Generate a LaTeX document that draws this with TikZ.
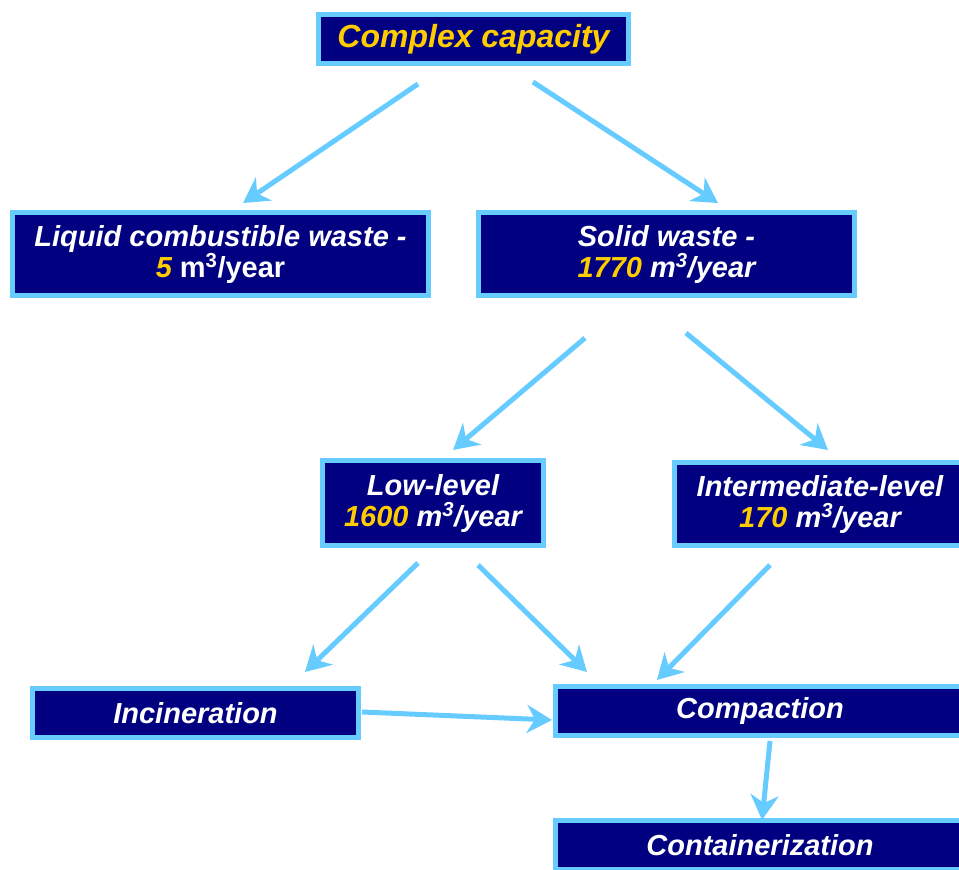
\documentclass[tikz,border=0pt]{standalone}
\usepackage{fontspec}
\setmainfont{Liberation Sans}
\usetikzlibrary{arrows.meta}

\definecolor{boxblue}{HTML}{000080}
\definecolor{lineblue}{HTML}{66CCFF}
\definecolor{numgold}{HTML}{FFCC00}

\newcommand{\num}[1]{\textcolor{numgold}{#1}}

\begin{document}
\begin{tikzpicture}[x=1pt,y=-1pt]
      \tikzset{
        every node/.style={draw=lineblue,line width=5pt,fill=boxblue,text=white,
          inner sep=0pt,align=center,font=\fontsize{29}{31}\selectfont\bfseries\itshape},
        arr/.style={lineblue,line width=5pt,-{Stealth[length=25pt,width=28pt,inset=8pt]}}
      }
      \useasboundingbox (0,0) rectangle (959,870);

      \node[minimum width=310pt,minimum height=49pt,text=numgold,
        font=\fontsize{32}{34}\selectfont\bfseries\itshape] (cap) at (473.5,39) {Complex capacity};
      \node[minimum width=416pt,minimum height=83pt] (liq) at (220.5,254)
        {Liquid combustible waste -\\\num{5} {\upshape m\textsuperscript{3}/year}};
      \node[minimum width=376pt,minimum height=83pt] (sol) at (666.5,254)
        {Solid waste -\\\num{1770} m\textsuperscript{3}/year};
      \node[minimum width=221pt,minimum height=85pt] (low) at (433,503)
        {Low-level\\\num{1600} m\textsuperscript{3}/year};
      \node[minimum width=291pt,minimum height=83pt] (int) at (820,504)
        {Intermediate-level\\\num{170} m\textsuperscript{3}/year};
      \node[minimum width=326pt,minimum height=49pt] (inc) at (195.5,713) {Incineration};
      \node[minimum width=409pt,minimum height=49pt] (com) at (760,711) {Compaction};
      \node[minimum width=409pt,minimum height=49pt] (con) at (760,845) {Containerization};

      % arrow ends
      \coordinate (cap-l) at (418,84);   \coordinate (liq-t) at (243,203);
      \coordinate (cap-r) at (533,82);   \coordinate (sol-t) at (718,203);
      \coordinate (sol-l) at (585,338);  \coordinate (low-t) at (453,450);
      \coordinate (sol-r) at (686,333);  \coordinate (int-t) at (828,450);
      \coordinate (low-l) at (418,563);  \coordinate (inc-t) at (305,672);
      \coordinate (low-r) at (478,565);  \coordinate (com-tl) at (587,672);
      \coordinate (int-b) at (770,565);  \coordinate (com-tr) at (657,680);
      \coordinate (inc-r) at (362,712);  \coordinate (com-l) at (552,720);
      \coordinate (com-b) at (770,741);  \coordinate (con-t) at (762,820);

      \draw[arr] (cap-l) -- (liq-t);
      \draw[arr] (cap-r) -- (sol-t);
      \draw[arr] (sol-l) -- (low-t);
      \draw[arr] (sol-r) -- (int-t);
      \draw[arr] (low-l) -- (inc-t);
      \draw[arr] (low-r) -- (com-tl);
      \draw[arr] (int-b) -- (com-tr);
      \draw[arr] (inc-r) -- (com-l);
      \draw[arr] (com-b) -- (con-t);
\end{tikzpicture}
\end{document}
